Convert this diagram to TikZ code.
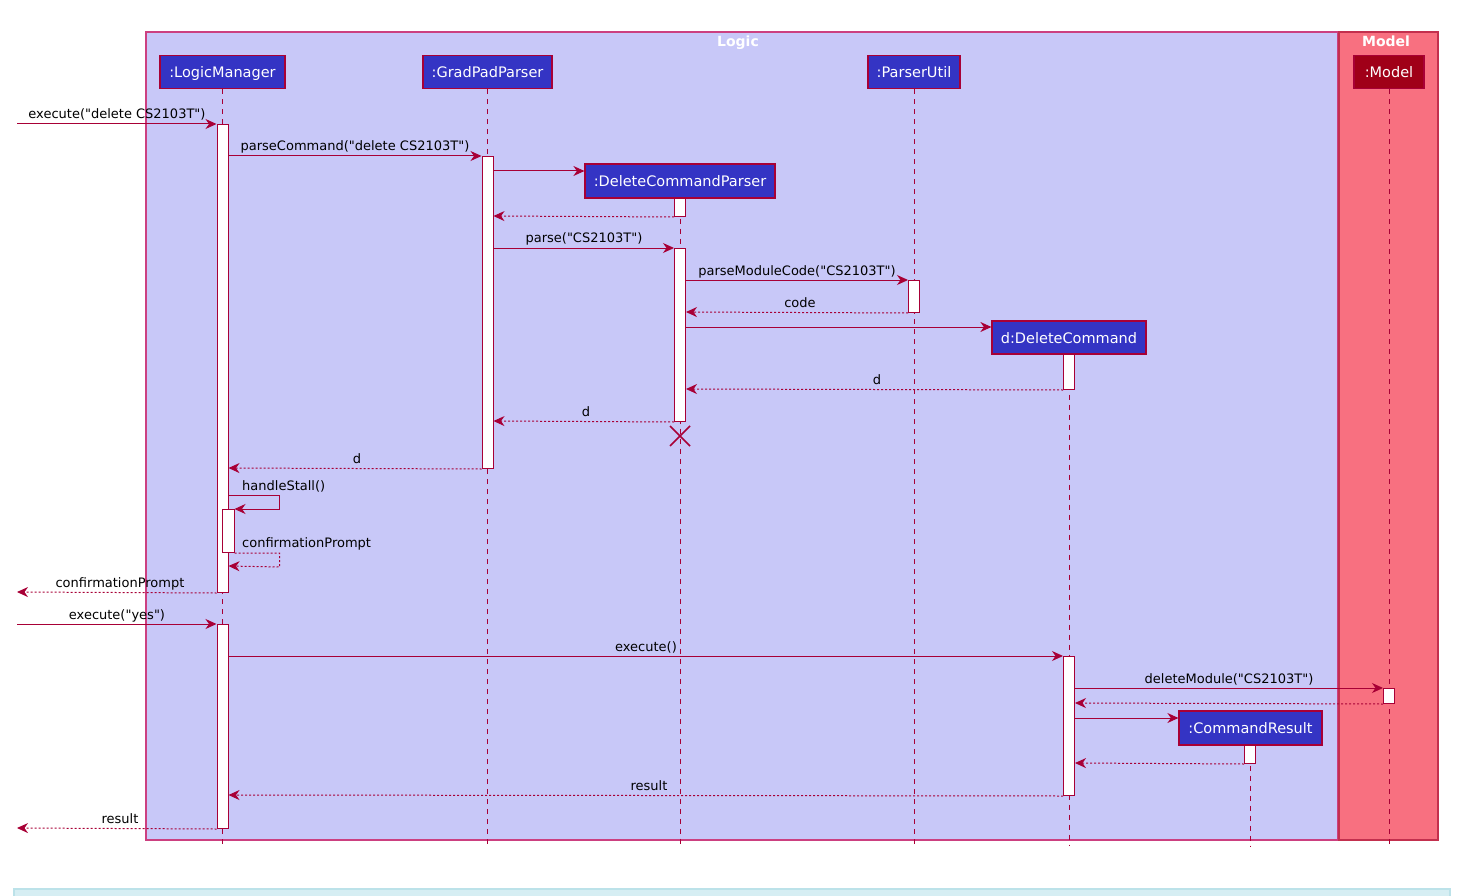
\documentclass[tikz,border=0pt]{standalone}
\usepackage{fontspec}
\setmainfont{DejaVu Sans}[Ligatures=TeXOff]
\usetikzlibrary{arrows.meta,calc}
\definecolor{lc}{HTML}{A80036}
\definecolor{pf}{HTML}{3434C4}
\definecolor{logicfill}{HTML}{C8C8F8}
\definecolor{logicdraw}{HTML}{CC4080}
\definecolor{modelfill}{HTML}{F87080}
\definecolor{modeldraw}{HTML}{C3304E}
\definecolor{modelpart}{HTML}{A00018}
\definecolor{barfill}{HTML}{D6EEF3}
\definecolor{bardraw}{HTML}{BCE2E9}
\begin{document}
\begin{tikzpicture}[x=1pt,y=-1pt,
  part/.style={draw=lc, line width=1.2pt, fill=pf, text=white, font=\fontsize{14.5}{16}\selectfont, minimum height=33pt, inner sep=0pt, text height=12pt, text depth=1pt},
  actbar/.style={draw=lc, line width=1pt, fill=white, minimum width=11pt, inner sep=0pt, anchor=north},
  life/.style={draw=lc, line width=1pt, dash pattern=on 5pt off 5pt},
  msg/.style={draw=lc, line width=1pt, -{Stealth[length=11pt,width=10pt,inset=3.5pt]}},
  ret/.style={msg, dash pattern=on 2pt off 2pt},
  lbl/.style={font=\fontsize{13}{15}\selectfont, text=black, inner sep=0pt, anchor=base},
  grouptitle/.style={font=\bfseries\fontsize{14}{16}\selectfont, text=white, inner sep=0pt, anchor=base}
]
\useasboundingbox (0,0) rectangle (1464,896);
% bottom bar
\draw[bardraw, fill=barfill, line width=2pt] (14,889) rectangle (1450,900);
% groups
\draw[logicdraw, fill=logicfill, line width=1.2pt] (146,32) rectangle (1338,840);
\draw[modeldraw, fill=modelfill, line width=1.2pt] (1339,32) rectangle (1438,840);
\node[grouptitle] (gl) at (738,47) {Logic};
\node[grouptitle] (gm) at (1386,47) {Model};

% participants
\node[part, minimum width=125pt] (lm) at (222.5,72) {:LogicManager};
\node[part, minimum width=129pt] (gp) at (487.5,72) {:GradPadParser};
\node[part, minimum width=92pt] (pu) at (914,72) {:ParserUtil};
\node[part, minimum width=70pt, fill=modelpart] (mo) at (1389,72) {:Model};
\node[part, minimum width=190pt, minimum height=34pt] (dcp) at (680,181) {:DeleteCommandParser};
\node[part, minimum width=154pt] (dc) at (1069,337.5) {d:DeleteCommand};
\node[part, minimum width=143pt, minimum height=34pt] (cr) at (1250.5,728) {:CommandResult};

% lifelines
\foreach \p in {lm,gp,pu,mo,dcp,dc,cr}{
  \draw[life] (\p.south) -- (\p.south |- 0,846);
}

% activation bars
\node[actbar, minimum height=468pt] (a1) at (222.5,124) {};
\node[actbar, minimum height=204pt] (a2) at (222.5,624) {};
\node[actbar, minimum height=43pt, minimum width=12pt] (a1n) at (228,509) {};
\node[actbar, minimum height=312pt] (b1) at (487.5,156) {};
\node[actbar, minimum height=18pt] (c0) at (680,198) {};
\node[actbar, minimum height=173pt] (c1) at (680,248) {};
\node[actbar, minimum height=32pt] (p1) at (914,280) {};
\node[actbar, minimum height=35pt] (d0) at (1069,354) {};
\node[actbar, minimum height=139pt] (d1) at (1069,656) {};
\node[actbar, minimum height=15pt] (m1) at (1389,688) {};
\node[actbar, minimum height=18pt] (r0) at (1250,745) {};

% free ends
\coordinate (in1) at (17,124);
\coordinate (out1) at (17,592);
\coordinate (in2) at (17,624);
\coordinate (out2) at (17,828);

% messages
\draw[msg] (in1) -- (a1.north west);
\node[lbl] (l1) at (117,119) {execute("delete CS2103T")};
\draw[msg] (a1.east |- 0,156) -- (b1.north west);
\node[lbl] (l2) at (355,151) {parseCommand("delete CS2103T")};
\draw[msg] (b1.east |- 0,171) -- (dcp.west |- 0,171);
\draw[ret] (c0.south west) -- (b1.east |- 0,216);
\draw[msg] (b1.east |- 0,248) -- (c1.north west);
\node[lbl] (l3) at (584,243) {parse("CS2103T")};
\draw[msg] (c1.east |- 0,280) -- (p1.north west);
\node[lbl] (l4) at (797,275) {parseModuleCode("CS2103T")};
\draw[ret] (p1.south west) -- (c1.east |- 0,312);
\node[lbl] (l5) at (800,307) {code};
\draw[msg] (c1.east |- 0,327) -- (dc.west |- 0,327);
\draw[ret] (d0.south west) -- (c1.east |- 0,389);
\node[lbl] (l6) at (877,384) {d};
\draw[ret] (c1.south west) -- (b1.east |- 0,421);
\node[lbl] (l7) at (586,416) {d};
% destroy
\coordinate (x0) at (680,436);
\draw[lc, line width=1.5pt] ($(x0)+(-10,-10)$) -- ($(x0)+(10,10)$) ($(x0)+(-10,10)$) -- ($(x0)+(10,-10)$);
\draw[ret] (b1.south west) -- (a1.east |- 0,468);
\node[lbl] (l8) at (357,463) {d};
% self messages
\draw[msg] (a1.east |- 0,495) -- ++(51,0) -- ++(0,14) -- (a1n.north east);
\node[lbl, anchor=base west] (l9) at (242,490) {handleStall()};
\draw[ret] (a1n.south east) -- ++(45,0) -- ++(0,14) -- (a1.east |- 0,566);
\node[lbl, anchor=base west] (l10) at (242,547) {confirmationPrompt};
\draw[ret] (a1.south west) -- (out1);
\node[lbl] (l11) at (120,587) {confirmationPrompt};
\draw[msg] (in2) -- (a2.north west);
\node[lbl] (l12) at (117,619) {execute("yes")};
\draw[msg] (a2.east |- 0,656) -- (d1.north west);
\node[lbl] (l13) at (646,651) {execute()};
\draw[msg] (d1.east |- 0,688) -- (m1.north west);
\node[lbl] (l14) at (1229,683) {deleteModule("CS2103T")};
\draw[ret] (m1.south west) -- (d1.east |- 0,703);
\draw[msg] (d1.east |- 0,718) -- (cr.west |- 0,718);
\draw[ret] (r0.south west) -- (d1.east |- 0,763);
\draw[ret] (d1.south west) -- (a2.east |- 0,795);
\node[lbl] (l15) at (649,790) {result};
\draw[ret] (a2.south west) -- (out2);
\node[lbl] (l16) at (120,823) {result};
\end{tikzpicture}
\end{document}
